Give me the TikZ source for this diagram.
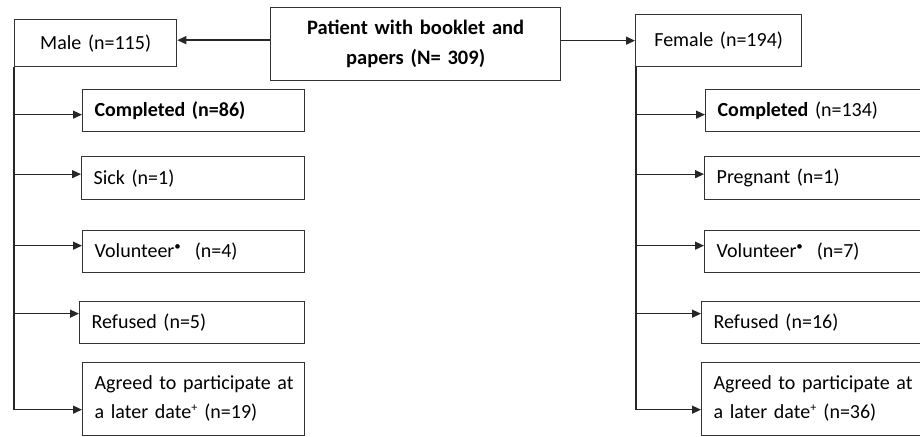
\documentclass[tikz,border=0pt]{standalone}
\usepackage{fontspec}
\setmainfont{Carlito}[WordSpace=0.8]
\usetikzlibrary{arrows.meta}
\tikzset{
  box/.style={draw=black!80, line width=1.3pt, rectangle, anchor=north west, inner ysep=0pt,
    font=\fontsize{20}{29}\selectfont},
  lbox/.style={box, inner xsep=0pt, align=left},
  cbox/.style={box, inner xsep=4pt, align=center},
  arr/.style={draw=black!85, line width=1.3pt, -{Triangle[length=9pt,width=8pt]}},
  trunk/.style={draw=black!85, line width=1.3pt},
}
\newcommand{\supdot}{\textsuperscript{\fontsize{13}{13}\selectfont •}}
\newcommand{\supdag}{\textsuperscript{\fontsize{12}{12}\selectfont +}}
\newcommand{\ind}{\hspace*{12pt}}
\begin{document}
\begin{tikzpicture}[x=1pt,y=-1pt]
\useasboundingbox (0,0) rectangle (920,436);
% top boxes
\node[cbox, minimum width=290, minimum height=73, text width=282, font=\bfseries\fontsize{20.5}{30}\selectfont] (pat) at (270,7) {Patient with booklet and\\papers (N= 309)};
\node[cbox, minimum width=162, minimum height=47, text width=154] (male) at (14,19) {Male (n=115)};
\node[cbox, minimum width=166, minimum height=52, text width=158] (fem) at (635,14) {Female (n=194)};
% male column
\node[lbox, minimum width=222, minimum height=42, text width=222] (m1) at (82,89) {\ind\textbf{Completed (n=86)}};
\node[lbox, minimum width=223, minimum height=43, text width=223] (m2) at (81,156) {\ind Sick (n=1)};
\node[lbox, minimum width=222, minimum height=42, text width=222] (m3) at (82,230) {\ind Volunteer\supdot\ \ (n=4)};
\node[lbox, minimum width=225, minimum height=42, text width=225] (m4) at (79,301) {\ind Refused (n=5)};
\node[lbox, minimum width=222, minimum height=73, text width=222] (m5) at (82,361.5) {\ind Agreed to participate at\\\ind a later date\supdag\ (n=19)};
% female column
\node[lbox, minimum width=220, minimum height=42, text width=220] (f1) at (705,89) {\ind\textbf{Completed} (n=134)};
\node[lbox, minimum width=221, minimum height=43, text width=221] (f2) at (704,156) {\ind Pregnant (n=1)};
\node[lbox, minimum width=221, minimum height=42, text width=221] (f3) at (704,230) {\ind Volunteer\supdot\ \ (n=7)};
\node[lbox, minimum width=224, minimum height=42, text width=224] (f4) at (701,301) {\ind Refused (n=16)};
\node[lbox, minimum width=224, minimum height=73, text width=224] (f5) at (701,361.5) {\ind Agreed to participate at\\\ind a later date\supdag\ (n=36)};
% top arrows
\draw[arr] ([yshift=3pt]male.east -| pat.west) -- ([yshift=3pt]male.east);
\draw[arr] (fem.west -| pat.east) -- (fem.west);
% male trunk
\coordinate (mt) at ([yshift=-11pt]m5.west -| male.south west);
\draw[trunk] (male.south west) -- (mt);
\draw[arr] ([yshift=-4pt]m1.west -| male.south west) -- ([yshift=-4pt]m1.west);
\draw[arr] ([yshift=4pt]m2.west -| male.south west) -- ([yshift=4pt]m2.west);
\draw[arr] ([yshift=6pt]m3.west -| male.south west) -- ([yshift=6pt]m3.west);
\draw[arr] ([yshift=9pt]m4.west -| male.south west) -- ([yshift=9pt]m4.west);
\draw[arr] (mt) -- ([yshift=-11pt]m5.west);
% female trunk
\coordinate (ftop) at ([xshift=1pt]fem.south west);
\coordinate (ft) at ([yshift=-11pt]m5.west -| ftop);
\draw[trunk] (ftop) -- (ft);
\draw[arr] ([yshift=-4pt]f1.west -| ftop) -- ([yshift=-4pt]f1.west);
\draw[arr] ([yshift=4pt]f2.west -| ftop) -- ([yshift=4pt]f2.west);
\draw[arr] ([yshift=6pt]f3.west -| ftop) -- ([yshift=6pt]f3.west);
\draw[arr] ([yshift=9pt]f4.west -| ftop) -- ([yshift=9pt]f4.west);
\draw[arr] (ft) -- ([yshift=-11pt]f5.west);
\end{tikzpicture}
\end{document}
